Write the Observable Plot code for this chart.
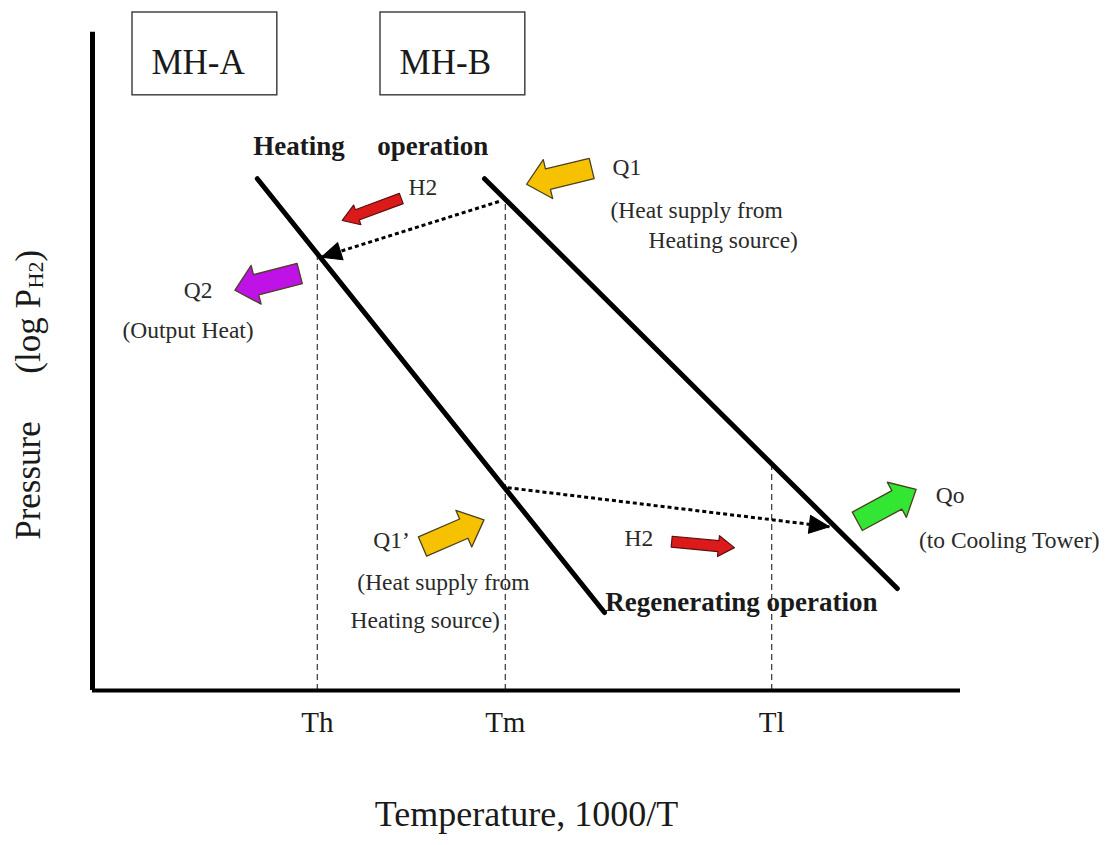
<!DOCTYPE html>
<html><head><meta charset="utf-8">
<script src="https://cdn.jsdelivr.net/npm/d3@7"></script>
<script src="https://cdn.jsdelivr.net/npm/@observablehq/plot@0.6"></script>
<style>body{margin:0;background:#fff}</style>
</head><body><div id="chart"></div>
<script>
// ---- data (abstract units: x = 1000/T, y = log P) ----
const mhA = [{x: 2.06, y: 8.53}, {x: 6.40, y: 1.30}];
const mhB = [{x: 4.90, y: 8.53}, {x: 10.06, y: 1.70}];
const tempLabels = ["Th", "Tm", "Tl"];
const tempX = [2.81, 5.16, 8.49];
const tempTop = [7.28, 8.19, 3.78];
const h2Flows = [
  {x1: 5.08, y1: 8.15, x2: 2.86, y2: 7.22, angle: -107.6},
  {x1: 5.19, y1: 3.38, x2: 9.21, y2: 2.73, angle: 96.9}
];
const heatArrows = [
  {name: "Q1", x: 6.24, y: 8.70, angle: -103.6},
  {name: "Q2", x: 2.59, y: 6.95, angle: -104.5},
  {name: "Q1'", x: 4.125, y: 2.40, angle: 66.6},
  {name: "Qo", x: 9.56, y: 2.82, angle: 61.5}
];
const h2Arrows = [
  {x: 3.86, y: 8.20, angle: -110.4},
  {x: 7.24, y: 2.48, angle: 95.4}
];
const boxes = [
  {label: "MH-A", x1: 0.50, x2: 2.31, y1: 9.92, y2: 11.30},
  {label: "MH-B", x1: 3.60, x2: 5.41, y1: 9.92, y2: 11.30}
];
const boxLabelX = [1.32, 4.41];
const opLabels = [
  {text: "Heating", x: 2.01, y: 9.07},
  {text: "operation", x: 3.56, y: 9.07},
  {text: "Regenerating operation", x: 6.41, y: 1.47}
];
const notes = [
  {text: "H2", x: 3.95, y: 8.38},
  {text: "Q1", x: 6.50, y: 8.72},
  {text: "(Heat supply from", x: 6.475, y: 8.00},
  {text: "Heating source)", x: 6.95, y: 7.50},
  {text: "Q2", x: 1.14, y: 6.67},
  {text: "(Output Heat)", x: 0.375, y: 6.00},
  {text: "Q1’", x: 3.51, y: 2.50},
  {text: "(Heat supply from", x: 3.31, y: 1.80},
  {text: "Heating source)", x: 3.225, y: 1.17},
  {text: "H2", x: 6.65, y: 2.53},
  {text: "Qo", x: 10.54, y: 3.25},
  {text: "(to Cooling Tower)", x: 10.33, y: 2.50}
];
const xTitle = "Temperature, 1000/T";

// ---- styles ----
const heatColor = {"Q1": "#f6c200", "Q2": "#bf12e6", "Q1'": "#f6c200", "Qo": "#33e633"};
const serif = "Liberation Serif, Times New Roman, serif";
const tickMap = new Map(tempX.map((x, i) => [x, tempLabels[i]]));
const temps = tempX.map((x, i) => ({x, top: tempTop[i]}));
const boxText = boxes.map((b, i) => ({label: b.label, x: boxLabelX[i]}));

function blockShape(shaft, head, headLen) {
  return {
    draw(ctx, l, r) {
      const b = l - headLen;
      ctx.moveTo(-shaft, 0);
      ctx.lineTo(-shaft, -b);
      ctx.lineTo(-head, -b);
      ctx.lineTo(0, -l);
      ctx.lineTo(head, -b);
      ctx.lineTo(shaft, -b);
      ctx.lineTo(shaft, 0);
      ctx.closePath();
    }
  };
}
const triangle = {
  draw(ctx, l, r) {
    ctx.moveTo(0, -l);
    ctx.lineTo(r, 0);
    ctx.lineTo(-r, 0);
    ctx.closePath();
  }
};

const chart = Plot.plot({
  width: 1118,
  height: 845,
  marginLeft: 92,
  marginRight: 158,
  marginTop: 30,
  marginBottom: 155,
  style: {fontFamily: serif, background: "white", color: "#111"},
  x: {domain: [0, 10.85]},
  y: {domain: [0, 11], axis: null},
  marks: [
    // boxes
    Plot.rect(boxes, {x1: "x1", x2: "x2", y1: "y1", y2: "y2", fill: "none", stroke: "#444", strokeWidth: 1.5}),
    Plot.text(boxText, {x: "x", y: 10.47, text: "label", fontSize: 35, fill: "#1a1a1a"}),
    // dashed temperature guides
    Plot.ruleX(temps, {x: "x", y1: 0, y2: "top", stroke: "#333", strokeWidth: 1.2, strokeDasharray: "6,4"}),
    // isotherm lines
    Plot.line(mhA, {x: "x", y: "y", strokeWidth: 5, stroke: "#000"}),
    Plot.line(mhB, {x: "x", y: "y", strokeWidth: 5, stroke: "#000"}),
    // H2 transfer (dotted)
    Plot.link(h2Flows, {x1: "x1", y1: "y1", x2: "x2", y2: "y2", stroke: "#000", strokeWidth: 3, strokeDasharray: "4,3"}),
    Plot.vector(h2Flows, {x: "x2", y: "y2", rotate: "angle", length: 20, r: 9, anchor: "end", shape: triangle, fill: "#000", stroke: "#000", strokeWidth: 1}),
    // block arrows
    Plot.vector(heatArrows, {x: "x", y: "y", rotate: "angle", length: 67, anchor: "start",
      shape: blockShape(10.5, 20, 22), fill: d => heatColor[d.name], stroke: "#4a4020", strokeWidth: 1.3}),
    Plot.vector(h2Arrows, {x: "x", y: "y", rotate: "angle", length: 63, anchor: "start",
      shape: blockShape(5.5, 10.5, 16), fill: "#dd1a1a", stroke: "#5a1010", strokeWidth: 1.2}),
    // axes lines
    Plot.ruleX([0], {y1: 0, y2: 10.97, strokeWidth: 5, stroke: "#000"}),
    Plot.ruleY([0], {x1: 0, x2: 10.85, strokeWidth: 4, stroke: "#000"}),
    Plot.axisX({ticks: tempX, tickFormat: d => tickMap.get(d), tickSize: 0, tickPadding: 21, fontSize: 29, label: null, fill: "#1a1a1a"}),
    // text annotations
    Plot.text(opLabels, {x: "x", y: "y", text: "text", textAnchor: "start", fontSize: 27, fontWeight: "bold", fill: "#1a1a1a"}),
    Plot.text(notes, {x: "x", y: "y", text: "text", textAnchor: "start", fontSize: 23.5, fill: "#2a2a2a"}),
    // axis titles
    Plot.text([xTitle], {frameAnchor: "bottom", dy: 135, fontSize: 36, fill: "#1a1a1a"}),
    Plot.text(["Pressure"], {x: -0.8, y: 3.5, rotate: -90, fontSize: 35, fill: "#1a1a1a"}),
    Plot.text(["(log P"], {x: -0.8, y: 5.28, rotate: -90, textAnchor: "start", fontSize: 35, fill: "#1a1a1a"}),
    Plot.text(["H2"], {x: -0.8, y: 6.70, dx: 7, rotate: -90, textAnchor: "start", fontSize: 22, fill: "#1a1a1a"}),
    Plot.text([")"], {x: -0.8, y: 7.15, rotate: -90, textAnchor: "start", fontSize: 35, fill: "#1a1a1a"})
  ]
});
document.getElementById("chart").appendChild(chart);
</script>
</body></html>
